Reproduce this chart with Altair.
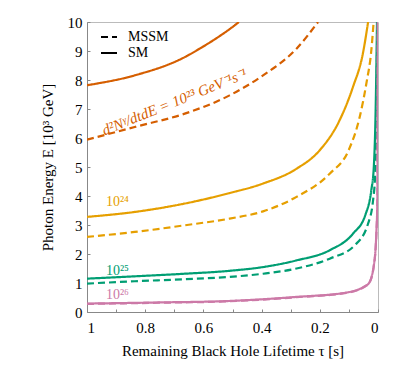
import altair as alt
import pandas as pd

# ---- data ----
tau_o_sm = [1.0, 0.836, 0.664, 0.613, 0.492, 0.478]
E_o_sm = [7.82, 8.16, 8.79, 9.08, 9.89, 10.0]
tau_o_ms = [1.0, 0.836, 0.664, 0.51, 0.395, 0.28, 0.206]
E_o_ms = [5.94, 6.38, 6.84, 7.47, 8.16, 9.08, 10.0]

tau_y_sm = [1.0, 0.836, 0.664, 0.51, 0.395, 0.28, 0.20, 0.132, 0.086, 0.052, 0.034]
E_y_sm = [3.28, 3.45, 3.74, 4.10, 4.43, 4.94, 5.58, 6.61, 7.76, 8.91, 10.0]
tau_y_ms = [1.0, 0.836, 0.664, 0.51, 0.395, 0.28, 0.166, 0.10, 0.063, 0.040, 0.023, 0.015]
E_y_ms = [2.59, 2.76, 2.99, 3.22, 3.47, 3.97, 4.77, 5.6, 6.72, 7.88, 9.02, 10.0]

tau_g_sm = [1.0, 0.836, 0.664, 0.51, 0.395, 0.28, 0.166, 0.086, 0.043, 0.023, 0.0144, 0.008, 0.0034]
E_g_sm = [1.15, 1.23, 1.32, 1.42, 1.55, 1.78, 2.13, 2.70, 3.36, 4.20, 5.0, 7.0, 10.0]
tau_g_ms = [1.0, 0.836, 0.664, 0.51, 0.395, 0.28, 0.166, 0.08, 0.034, 0.017, 0.009, 0.005, 0.0025]
E_g_ms = [0.98, 1.06, 1.13, 1.21, 1.32, 1.50, 1.84, 2.3, 3.05, 3.85, 4.89, 7.0, 10.0]

tau_p_sm = [1.0, 0.75, 0.51, 0.28, 0.109, 0.04, 0.032, 0.0144, 0.0055, 0.002, 0.0005]
E_p_sm = [0.29, 0.33, 0.38, 0.52, 0.67, 0.92, 0.98, 1.61, 2.76, 3.9, 10.0]
tau_p_ms = [1.0, 0.75, 0.51, 0.28, 0.109, 0.04, 0.032, 0.0144, 0.0055, 0.002, 0.0005]
E_p_ms = [0.28, 0.32, 0.37, 0.51, 0.66, 0.91, 0.97, 1.58, 2.72, 3.85, 10.0]

fluxes = ["1e23", "1e24", "1e25", "1e26"]
flux_colors = ["#D55E00", "#E69F00", "#009E73", "#CC79A7"]
models = ["MSSM", "SM"]

series = [
    ("1e23", "SM", tau_o_sm, E_o_sm), ("1e23", "MSSM", tau_o_ms, E_o_ms),
    ("1e24", "SM", tau_y_sm, E_y_sm), ("1e24", "MSSM", tau_y_ms, E_y_ms),
    ("1e25", "SM", tau_g_sm, E_g_sm), ("1e25", "MSSM", tau_g_ms, E_g_ms),
    ("1e26", "SM", tau_p_sm, E_p_sm), ("1e26", "MSSM", tau_p_ms, E_p_ms),
]
rows = []
for f, m, ts, es in series:
    for t, e in zip(ts, es):
        rows.append({"flux": f, "model": m, "tau": t, "E": e})
df = pd.DataFrame(rows)

label_text = ["10²⁴", "10²⁵", "10²⁶"]
label_tau = [0.935, 0.935, 0.935]
label_E = [3.8, 1.4, 0.6]
label_flux = ["1e24", "1e25", "1e26"]
lab = pd.DataFrame({"text": label_text, "tau": label_tau, "E": label_E, "flux": label_flux})

rot = pd.DataFrame({"text": ["d²Nᵞ/dtdE = 10²³ GeV⁻¹s⁻¹"], "tau": [0.70], "E": [7.25], "flux": ["1e23"]})

FONT = "Liberation Serif"
xscale = alt.Scale(domain=[0, 1], reverse=True, nice=False)
yscale = alt.Scale(domain=[0, 10], nice=False)
cscale = alt.Scale(domain=fluxes, range=flux_colors)

lines = alt.Chart(df).mark_line(strokeWidth=2.2, clip=True, interpolate="monotone").encode(
    x=alt.X("tau:Q", scale=xscale,
            axis=alt.Axis(title="Remaining Black Hole Lifetime τ [s]", values=[0, 0.2, 0.4, 0.6, 0.8, 1],
                          format="~g", ticks=False, grid=False, labelPadding=8, titlePadding=8)),
    y=alt.Y("E:Q", scale=yscale,
            axis=alt.Axis(title="Photon Energy E [10³ GeV]", values=list(range(0, 11)),
                          ticks=False, grid=False, labelPadding=5, titlePadding=12)),
    color=alt.Color("flux:N", scale=cscale, legend=None),
    strokeDash=alt.StrokeDash("model:N", scale=alt.Scale(domain=models, range=[[7, 4], [1, 0]]),
                              legend=alt.Legend(title=None, orient="none", legendX=13, legendY=6,
                                                symbolType="stroke", symbolStrokeColor="black",
                                                symbolStrokeWidth=2, symbolSize=256, labelFont=FONT,
                                                labelFontSize=14, labelColor="black", rowPadding=0,
                                                labelOffset=10, padding=0)),
)

ticks = alt.Chart(df).mark_point(opacity=0).encode(
    x=alt.X("tau:Q", scale=xscale,
            axis=alt.Axis(title=None, orient="bottom", values=[round(i * 0.1, 1) for i in range(11)],
                          labels=False, domain=False, grid=False, ticks=True, tickSize=3, offset=-3,
                          tickColor="#888888")),
    y=alt.Y("E:Q", scale=yscale,
            axis=alt.Axis(title=None, orient="left", values=list(range(0, 11)), labels=False,
                          domain=False, grid=False, ticks=True, tickSize=3, offset=-3,
                          tickColor="#888888")),
)

labels = alt.Chart(lab).mark_text(font=FONT, fontSize=14, align="left", baseline="middle").encode(
    x=alt.X("tau:Q", scale=xscale, axis=None), y=alt.Y("E:Q", scale=yscale, axis=None), text="text:N",
    color=alt.Color("flux:N", scale=cscale, legend=None),
)

rotlabel = alt.Chart(rot).mark_text(font=FONT, fontSize=15, angle=338, align="center",
                                    baseline="middle", fontStyle="italic").encode(
    x=alt.X("tau:Q", scale=xscale, axis=None), y=alt.Y("E:Q", scale=yscale, axis=None), text="text:N",
    color=alt.Color("flux:N", scale=cscale, legend=None),
)

chart = alt.layer(lines, ticks, labels, rotlabel).resolve_axis(x="independent", y="independent").properties(
    width=291, height=290,
    autosize=alt.AutoSizeParams(type="none"),
    padding={"left": 79, "top": 14, "right": 9, "bottom": 48},
).configure_axis(
    labelFont=FONT, labelFontSize=15, labelColor="black",
    titleFont=FONT, titleFontSize=15, titleFontWeight="normal", titleColor="black",
    domainColor="#888888", domainWidth=1,
).configure_view(stroke="#bbbbbb", strokeWidth=1)

chart.save("out.html", embed_options={"renderer": "svg", "actions": False})
